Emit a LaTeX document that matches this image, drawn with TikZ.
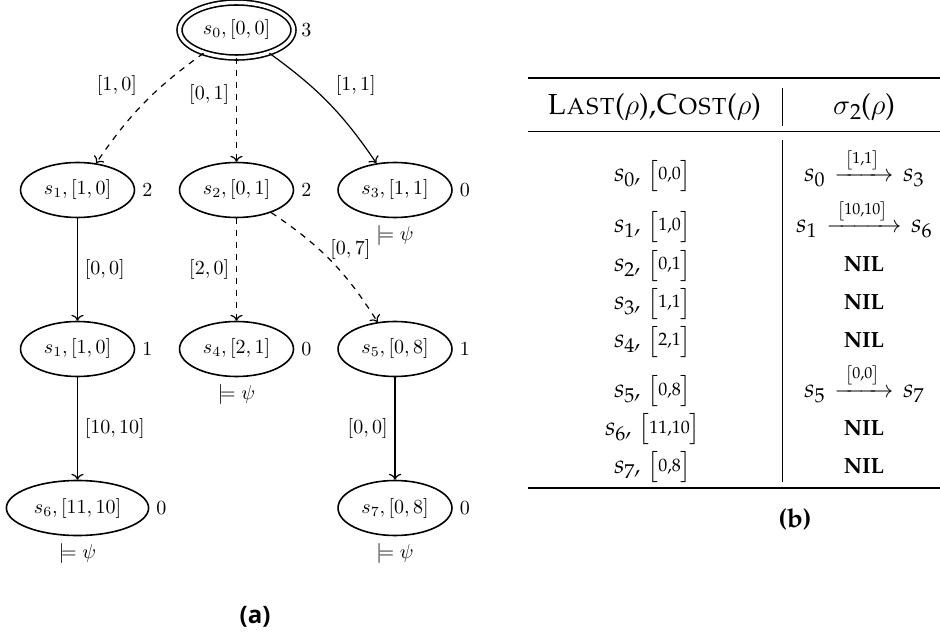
\documentclass[tikz,border=0pt]{standalone}
\usepackage{amsmath,amssymb}
\usepackage[T1,TU]{fontenc}
\usepackage{fontspec}
\newfontfamily\capfont{Open Sans}
\usepackage{tikz}
\usetikzlibrary{arrows.meta,positioning,shapes,calc}

\newcommand\palf{\fontencoding{T1}\fontfamily{ppl}\selectfont}
\newcommand\st[1]{\textit{s}\raisebox{-2.5pt}{\fontsize{10}{10}\selectfont #1}}
\newcommand\cst[2]{$\bigl[$\raisebox{1pt}{\fontsize{9}{9}\selectfont #1,#2}$\bigr]$}
\newcommand\acst[2]{\fontsize{8}{8}\selectfont$\bigl[$#1,#2$\bigr]$}
\newcommand\nil{{\fontsize{11}{11}\selectfont\bfseries NIL}}
\newcommand\pmove[4]{\st{#1}\hspace{5pt}$\xrightarrow{\;\raisebox{2pt}{\palf\acst{#3}{#4}}\;}$\hspace{5pt}\st{#2}}

\begin{document}
\begin{tikzpicture}[x=0.5pt,y=0.5pt,
    state/.style={ellipse, draw, thick, minimum height=27.5pt},
    init/.style={state, double, double distance=1.7pt},
    tbl/.style={anchor=base, inner sep=0pt, font=\palf\fontsize{13}{15}\selectfont},
    hd/.style={anchor=base, inner sep=0pt, font=\palf\fontsize{14.5}{17}\selectfont}]
    \useasboundingbox (0,0) rectangle (940,-635);

    % (a) the tree
    \node[init] (s0) at (236.5,-30) {$s_0,[0,0]$};
    \node[state] (s1) at (77.5,-190) {$s_1,[1,0]$};
    \node[state] (s2) at (236.5,-190) {$s_2,[0,1]$};
    \node[state] (s3) at (395,-190) {$s_3,[1,1]$};
    \node[state] (s1b) at (77.5,-349) {$s_1,[1,0]$};
    \node[state] (s4) at (236.5,-349) {$s_4,[2,1]$};
    \node[state] (s5) at (395,-349) {$s_5,[0,8]$};
    \node[state] (s6) at (77.5,-508) {$s_6,[11,10]$};
    \node[state] (s7) at (395,-508) {$s_7,[0,8]$};

    \node[right=0pt of s0] (c0) {$3$};
    \node[right=0pt of s1] (c1) {$2$};
    \node[right=0pt of s2] (c2) {$2$};
    \node[right=0pt of s3] (c3) {$0$};
    \node[right=0pt of s1b] (c1b) {$1$};
    \node[right=0pt of s4] (c4) {$0$};
    \node[right=0pt of s5] (c5) {$1$};
    \node[right=0pt of s6] (c6) {$0$};
    \node[right=0pt of s7] (c7) {$0$};

    \node[below=0pt of s3] (m3) {$\models\psi$};
    \node[below=0pt of s4] (m4) {$\models\psi$};
    \node[below=0pt of s6] (m6) {$\models\psi$};
    \node[below=0pt of s7] (m7) {$\models\psi$};

    \draw[semithick, dashed, ->] (s0) to[bend right=10] node[above left] {$[1,0]$} (s1);
    \draw[semithick, dashed, ->] (s0) -- node[pos=.35, left] {$[0,1]$} (s2);
    \draw[semithick, ->] (s0) to[bend left=10] node[above right] {$[1,1]$} (s3);
    \draw[semithick, ->] (s1) -- node[right] {$[0,0]$} (s1b);
    \draw[semithick, dashed, ->] (s2) -- node[left] {$[2,0]$} (s4);
    \draw[semithick, dashed, ->] (s2) to[bend left=12] node[above right, xshift=-4pt, yshift=-3pt] {$[0,7]$} (s5);
    \draw[semithick, ->] (s1b) -- node[right] {$[10,10]$} (s6);
    \draw[semithick, ->] (s5) -- node[left] {$[0,0]$} (s7);

    \node[font=\capfont\bfseries\fontsize{12}{14}\selectfont] (capa) at (255,-617) {(a)};

    % (b) the table
    \draw[line width=0.8pt] (528,-78) -- (940,-78);
    \draw[line width=0.5pt] (528,-132) -- (940,-132);
    \draw[line width=0.8pt] (528,-488) -- (940,-488);
    \draw (782,-88) -- (782,-126);
    \draw (782,-140) -- (782,-482);

    \node[hd] (h1) at (654,-115) {{\scshape Last}($\rho$),{\scshape Cost}($\rho$)};
    \node[hd] (h2) at (864,-115) {$\sigma$\raisebox{-2.5pt}{\fontsize{11}{11}\selectfont 2}($\rho$)};

    \node[tbl] (l0) at (653,-182) {\st{0}\textit{,} \cst{0}{0}};
    \node[tbl] (l1) at (653,-233) {\st{1}\textit{,} \cst{1}{0}};
    \node[tbl] (l2) at (653,-272) {\st{2}\textit{,} \cst{0}{1}};
    \node[tbl] (l3) at (653,-310) {\st{3}\textit{,} \cst{1}{1}};
    \node[tbl] (l4) at (653,-348) {\st{4}\textit{,} \cst{2}{1}};
    \node[tbl] (l5) at (653,-397) {\st{5}\textit{,} \cst{0}{8}};
    \node[tbl] (l6) at (653,-435) {\st{6}\textit{,} \cst{11}{10}};
    \node[tbl] (l7) at (653,-473) {\st{7}\textit{,} \cst{0}{8}};

    \node[tbl] (r0) at (864,-182) {\pmove{0}{3}{1}{1}};
    \node[tbl] (r1) at (864,-233) {\pmove{1}{6}{10}{10}};
    \node[tbl] (r2) at (864,-272) {\nil};
    \node[tbl] (r3) at (864,-310) {\nil};
    \node[tbl] (r4) at (864,-348) {\nil};
    \node[tbl] (r5) at (864,-397) {\pmove{5}{7}{0}{0}};
    \node[tbl] (r6) at (864,-435) {\nil};
    \node[tbl] (r7) at (864,-473) {\nil};

    \node[font=\palf\bfseries\fontsize{13}{15}\selectfont] (capb) at (795,-520) {(b)};
\end{tikzpicture}
\end{document}
